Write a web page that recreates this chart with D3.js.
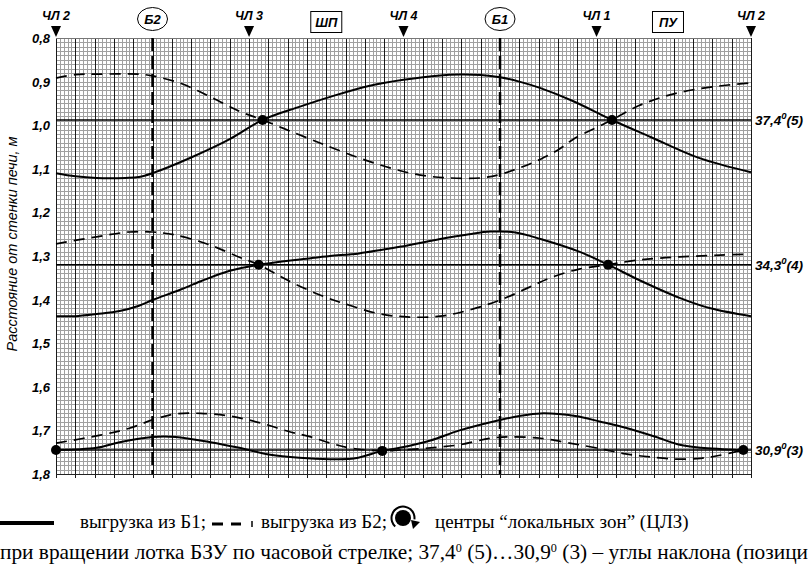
<!DOCTYPE html>
<html>
<head>
<meta charset="utf-8">
<script src="https://cdn.jsdelivr.net/npm/d3@7"></script>
<style>
  body { margin: 0; background: #fff; }
  svg { display: block; }
</style>
</head>
<body>
<script>
// Data: distance from furnace wall (m) vs. chute angle (deg, 0..360)

// top markers along the rotation circle
var chlMarks = [["ЧЛ 2", 0], ["ЧЛ 3", 100], ["ЧЛ 4", 180], ["ЧЛ 1", 280], ["ЧЛ 2", 360]];
var bunkers = [["Б2", 50], ["Б1", 230]];
var boxes = [["ШП", 140], ["ПУ", 317]];

var yTicks = [0.8, 0.9, 1.0, 1.1, 1.2, 1.3, 1.4, 1.5, 1.6, 1.7, 1.8];

// chute tilt angles (position) and the level of the ring where curves cross
var tiltAngles = ["37,4", "34,3", "30,9"];
var tiltPos = ["(5)", "(4)", "(3)"];
var tiltLevel = [0.988, 1.32, 1.745];

// centres of local zones [deg, m]
var centres = [[107, 0.988], [288, 0.988], [105, 1.32], [286, 1.32], [0, 1.745], [169, 1.747], [356, 1.745]];

// 37,4 (5)
var b1Pos5 = [[0,1.110],[10,1.117],[21,1.121],[36,1.121],[43,1.119],[50,1.110],[70,1.074],[90,1.032],[107,0.988],
  [126,0.958],[142,0.935],[162,0.910],[180,0.896],[199,0.886],[209,0.884],[220,0.885],[230,0.890],
  [240,0.900],[251,0.915],[268,0.945],[288,0.988],[308,1.027],[333,1.075],[360,1.108]];
var b2Pos5 = [[0,0.892],[10,0.884],[21,0.883],[43,0.883],[50,0.887],[64,0.903],[80,0.935],[95,0.968],[107,0.988],
  [126,1.022],[142,1.050],[157,1.075],[173,1.098],[188,1.114],[204,1.121],[220,1.121],[230,1.113],
  [240,1.098],[251,1.078],[261,1.054],[268,1.032],[288,0.988],[302,0.955],[320,0.928],[340,0.912],[360,0.903]];

// 34,3 (4)
var b1Pos4 = [[0,1.438],[10,1.438],[21,1.433],[33,1.426],[43,1.414],[50,1.401],[64,1.378],[75,1.358],[90,1.334],
  [105,1.320],[132,1.305],[142,1.300],[157,1.294],[178,1.279],[199,1.261],[214,1.250],[225,1.244],
  [238,1.246],[251,1.261],[271,1.290],[286,1.320],[302,1.355],[323,1.396],[339,1.420],[360,1.438]];
var b2Pos4 = [[0,1.272],[21,1.256],[38,1.245],[50,1.245],[62,1.252],[80,1.275],[95,1.303],[105,1.320],
  [121,1.358],[137,1.390],[152,1.413],[168,1.433],[183,1.440],[199,1.438],[214,1.424],[230,1.401],[245,1.372],
  [256,1.350],[271,1.330],[286,1.320],[302,1.309],[323,1.302],[344,1.298],[357,1.296]];

// 30,9 (3)
var b1Pos3 = [[0,1.745],[21,1.740],[33,1.727],[50,1.715],[62,1.715],[80,1.727],[95,1.740],[111,1.756],[126,1.763],
  [142,1.766],[155,1.764],[169,1.747],[178,1.740],[194,1.723],[209,1.700],[230,1.676],[240,1.667],
  [251,1.661],[269,1.667],[282,1.680],[295,1.694],[310,1.714],[323,1.733],[334,1.740],[356,1.745]];
var b2Pos3 = [[0,1.729],[23,1.711],[38,1.695],[50,1.676],[62,1.662],[75,1.661],[90,1.667],[106,1.683],
  [121,1.703],[132,1.715],[142,1.729],[152,1.740],[169,1.747],[178,1.745],[194,1.740],[209,1.733],
  [225,1.718],[235,1.715],[251,1.718],[266,1.729],[282,1.742],[295,1.754],[308,1.761],[323,1.766],[334,1.764],
  [344,1.757],[356,1.745]];

var solidSeries = [b1Pos5, b1Pos4, b1Pos3];
var dashedSeries = [b2Pos5, b2Pos4, b2Pos3];

//////////////
// Make chart
//////////////

var W = 811, H = 567;
var pLeft = 56, pRight = 751, pTop = 38, pBottom = 474;

var x = d3.scaleLinear().domain([0, 360]).range([pLeft, pRight]);
var y = d3.scaleLinear().domain([0.8, 1.8]).range([pTop, pBottom]);

var svg = d3.select("body").append("svg")
    .attr("width", W)
    .attr("height", H);

var sans = "'Liberation Sans', Arial, sans-serif";
var serif = "'Liberation Serif', 'Times New Roman', serif";

// minor grid
var grid = svg.append("g").attr("shape-rendering", "crispEdges");
grid.selectAll("line.mx")
    .data(d3.range(0, 361, 2))
  .enter().append("line")
    .attr("x1", function(d) { return Math.round(x(d)) + 0.5; })
    .attr("x2", function(d) { return Math.round(x(d)) + 0.5; })
    .attr("y1", pTop).attr("y2", pBottom)
    .attr("stroke", "#a0a0a0").attr("stroke-width", 1);
grid.selectAll("line.my")
    .data(d3.range(0, 101))
  .enter().append("line")
    .attr("x1", pLeft).attr("x2", pRight)
    .attr("y1", function(d) { return Math.round(y(0.8 + d / 100)) + 0.5; })
    .attr("y2", function(d) { return Math.round(y(0.8 + d / 100)) + 0.5; })
    .attr("stroke", "#a0a0a0").attr("stroke-width", 1);

// major verticals every 10 deg, poking below the frame as ticks
grid.selectAll("line.major")
    .data(d3.range(0, 361, 10))
  .enter().append("line")
    .attr("x1", function(d) { return Math.round(x(d)) + 0.5; })
    .attr("x2", function(d) { return Math.round(x(d)) + 0.5; })
    .attr("y1", pTop).attr("y2", pBottom + 4)
    .attr("stroke", "#1a1a1a").attr("stroke-width", 1);

grid.append("line")
    .attr("x1", pLeft).attr("x2", pRight)
    .attr("y1", pBottom + 0.5).attr("y2", pBottom + 0.5)
    .attr("stroke", "#222").attr("stroke-width", 1.5);
grid.append("line")
    .attr("x1", pLeft).attr("x2", pRight)
    .attr("y1", pTop + 0.5).attr("y2", pTop + 0.5)
    .attr("stroke", "#777");

// y axis labels
svg.append("g").selectAll("text")
    .data(yTicks)
  .enter().append("text")
    .attr("x", 50)
    .attr("y", function(d) { return y(d) + 5; })
    .attr("text-anchor", "end")
    .style("font", "italic bold 13px " + sans)
    .text(function(d) { return d3.format(".1f")(d).replace(".", ","); });

svg.append("text")
    .attr("transform", "translate(17,244) rotate(-90)")
    .attr("text-anchor", "middle")
    .style("font", "italic 14.5px " + sans)
    .text("Расстояние от стенки печи, м");

// bunker dashed verticals
svg.append("g").selectAll("line")
    .data(bunkers)
  .enter().append("line")
    .attr("x1", function(d) { return x(d[1]); })
    .attr("x2", function(d) { return x(d[1]); })
    .attr("y1", pTop).attr("y2", pBottom)
    .attr("stroke", "#000").attr("stroke-width", 2.5)
    .attr("stroke-dasharray", "13,5");

// tilt level lines
svg.append("g").selectAll("line")
    .data(tiltLevel)
  .enter().append("line")
    .attr("x1", pLeft).attr("x2", pRight)
    .attr("y1", function(d) { return y(d); })
    .attr("y2", function(d) { return y(d); })
    .attr("stroke", "#000").attr("stroke-width", 1.6);

var tiltLbl = svg.append("g").selectAll("text")
    .data(tiltLevel)
  .enter().append("text")
    .attr("x", 755)
    .attr("y", function(d) { return y(d) + 5; })
    .style("font", "italic bold 13.5px " + sans);
tiltLbl.append("tspan").text(function(d, i) { return tiltAngles[i]; });
tiltLbl.append("tspan").attr("dy", -6).style("font-size", "9.5px").text("0");
tiltLbl.append("tspan").attr("dy", 6).text(function(d, i) { return tiltPos[i]; });

// curves
var line = d3.line()
    .x(function(d) { return x(d[0]); })
    .y(function(d) { return y(d[1]); })
    .curve(d3.curveCatmullRom.alpha(0.5));

svg.append("g").selectAll("path")
    .data(solidSeries)
  .enter().append("path")
    .attr("d", line)
    .attr("fill", "none")
    .attr("stroke", "#000").attr("stroke-width", 2);

svg.append("g").selectAll("path")
    .data(dashedSeries)
  .enter().append("path")
    .attr("d", line)
    .attr("fill", "none")
    .attr("stroke", "#000").attr("stroke-width", 1.7)
    .attr("stroke-dasharray", "11,7");

svg.append("g").selectAll("circle")
    .data(centres)
  .enter().append("circle")
    .attr("cx", function(d) { return x(d[0]); })
    .attr("cy", function(d) { return y(d[1]); })
    .attr("r", 5)
    .attr("fill", "#000");

// top markers
var marks = svg.append("g").selectAll("g")
    .data(chlMarks)
  .enter().append("g")
    .attr("transform", function(d) { return "translate(" + x(d[1]) + ",0)"; });
marks.append("path")
    .attr("d", "M-5,26L5,26L0,37Z")
    .attr("fill", "#000");
marks.append("text")
    .attr("y", 20)
    .attr("text-anchor", "middle")
    .style("font", "italic bold 12.5px " + sans)
    .text(function(d) { return d[0]; });

var bk = svg.append("g").selectAll("g")
    .data(bunkers)
  .enter().append("g")
    .attr("transform", function(d) { return "translate(" + x(d[1]) + ",19)"; });
bk.append("ellipse")
    .attr("rx", 15).attr("ry", 11.5)
    .attr("fill", "#fff").attr("stroke", "#000").attr("stroke-width", 1);
bk.append("text")
    .attr("y", 4.5)
    .attr("text-anchor", "middle")
    .style("font", "italic bold 13px " + sans)
    .text(function(d) { return d[0]; });

var bx = svg.append("g").selectAll("g")
    .data(boxes)
  .enter().append("g")
    .attr("transform", function(d) { return "translate(" + x(d[1]) + ",22)"; });
bx.append("rect")
    .attr("x", -15.5).attr("y", -10.5)
    .attr("width", 31).attr("height", 21)
    .attr("fill", "#fff").attr("stroke", "#000").attr("stroke-width", 1);
bx.append("text")
    .attr("y", 4.5)
    .attr("text-anchor", "middle")
    .style("font", "italic bold 13px " + sans)
    .text(function(d) { return d[0]; });

// caption under the chart
var cap = svg.append("g").style("font", "19px " + serif);
cap.append("line")
    .attr("x1", 0).attr("x2", 54)
    .attr("y1", 523).attr("y2", 523)
    .attr("stroke", "#000").attr("stroke-width", 4);
cap.append("text").attr("x", 80).attr("y", 528).text("выгрузка из Б1;");
cap.append("line")
    .attr("x1", 212).attr("x2", 241)
    .attr("y1", 524).attr("y2", 524)
    .attr("stroke", "#000").attr("stroke-width", 3)
    .attr("stroke-dasharray", "11,8");
cap.append("line")
    .attr("x1", 252).attr("x2", 252)
    .attr("y1", 521).attr("y2", 527)
    .attr("stroke", "#000").attr("stroke-width", 1.5);
cap.append("text").attr("x", 261).attr("y", 528).text("выгрузка из Б2;");

// rotating "local zone" icon
var ic = cap.append("g").attr("transform", "translate(403,518)");
ic.append("circle").attr("r", 8).attr("fill", "#000");
ic.append("path")
    .attr("d", d3.arc()({innerRadius: 10.5, outerRadius: 12.5, startAngle: -2.4, endAngle: 1.7}))
    .attr("fill", "#000");
ic.append("path")
    .attr("d", "M8,2L17,4L10,11Z")
    .attr("fill", "#000");

cap.append("text").attr("x", 435).attr("y", 528).text("центры “локальных зон” (ЦЛЗ)");

var l2 = cap.append("text").attr("x", 0).attr("y", 559)
    .style("font-size", "21px")
    .attr("textLength", 808)
    .attr("lengthAdjust", "spacingAndGlyphs");
l2.append("tspan").text("при вращении лотка БЗУ по часовой стрелке; 37,4");
l2.append("tspan").attr("dy", -7).style("font-size", "12px").text("0");
l2.append("tspan").attr("dy", 7).text(" (5)…30,9");
l2.append("tspan").attr("dy", -7).style("font-size", "12px").text("0");
l2.append("tspan").attr("dy", 7).text(" (3) – углы наклона (позици");
</script>
</body>
</html>
